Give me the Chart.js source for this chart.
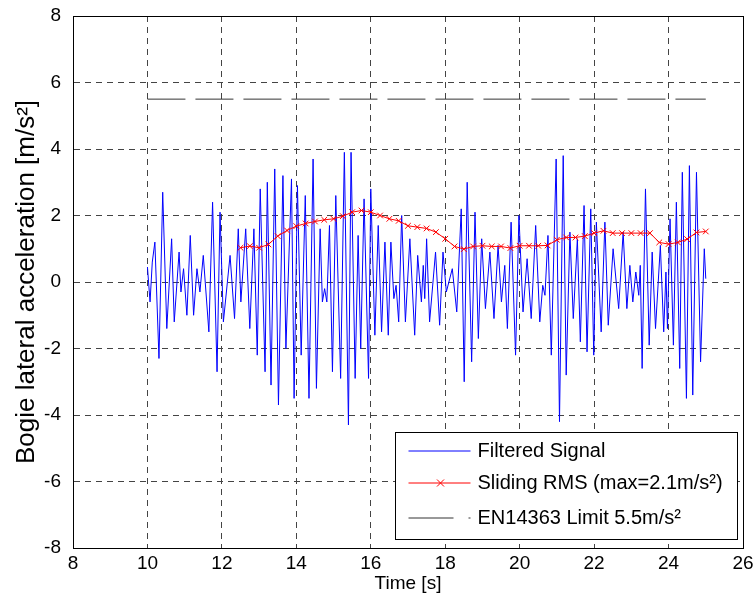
<!DOCTYPE html>
<html>
<head>
<meta charset="utf-8">
<script src="https://cdn.jsdelivr.net/npm/chart.js@4.4.0/dist/chart.umd.min.js"></script>
<style>
  body { margin: 0; background: #fff; }
  canvas { display: block; }
</style>
</head>
<body>
<canvas id="myChart" width="754" height="601"></canvas>
<script>
// filtered signal, read peak by peak off the plot
const sigTime = [
  10.00, 10.07, 10.13, 10.20, 10.31, 10.41, 10.52, 10.65, 10.72, 10.85,
  10.90, 10.97, 11.06, 11.15, 11.24, 11.33, 11.41, 11.50, 11.65, 11.75,
  11.87, 11.95, 12.04, 12.22, 12.34, 12.44, 12.51, 12.64, 12.75, 12.86,
  12.95, 13.03, 13.16, 13.22, 13.32, 13.42, 13.52, 13.64, 13.72, 13.87,
  13.94, 14.03, 14.13, 14.24, 14.34, 14.45, 14.54, 14.64, 14.70, 14.76,
  14.82, 14.89, 14.97, 15.06, 15.19, 15.29, 15.40, 15.47, 15.58, 15.66,
  15.73, 15.82, 15.94, 16.00, 16.11, 16.20, 16.29, 16.38, 16.47, 16.54,
  16.62, 16.68, 16.75, 16.83, 16.93, 17.05, 17.18, 17.26, 17.36, 17.41,
  17.45, 17.50, 17.58, 17.74, 17.85, 17.94, 18.03, 18.19, 18.31, 18.43,
  18.51, 18.59, 18.71, 18.80, 18.89, 18.98, 19.08, 19.20, 19.31, 19.42,
  19.51, 19.60, 19.67, 19.77, 19.89, 19.98, 20.09, 20.20, 20.31, 20.43,
  20.54, 20.62, 20.68, 20.76, 20.85, 20.98, 21.07, 21.17, 21.25, 21.35,
  21.44, 21.55, 21.63, 21.73, 21.81, 21.91, 21.99, 22.06, 22.19, 22.29,
  22.38, 22.51, 22.66, 22.78, 22.88, 22.96, 23.04, 23.12, 23.20, 23.24,
  23.29, 23.38, 23.48, 23.56, 23.65, 23.78, 23.87, 23.93, 23.97, 24.04,
  24.13, 24.21, 24.30, 24.37, 24.48, 24.56, 24.65, 24.75, 24.86, 24.96,
  25.00
];
const sigAccel = [
  0.45, -0.6, 0.6, 1.2, -2.3, 2.7, -1.4, 1.3, -1.2, 0.9,
  -0.3, 0.4, -1.0, 1.4, -1.0, 0.4, -0.3, 0.8, -1.5, 2.4,
  -2.7, 2.1, -1.2, 0.8, -1.1, 1.6, -0.6, 1.6, -1.4, 1.6,
  -2.2, 2.8, -2.7, 3.0, -3.1, 3.4, -3.7, 3.2, -2.0, 3.1,
  -3.5, 2.9, -2.2, 2.6, -3.5, 3.7, -3.2, 1.6, -0.6, -0.2,
  -0.6, 1.7, -2.7, 2.6, -2.9, 3.9, -4.3, 3.9, -2.9, 1.4,
  -2.0, 2.5, -2.9, 2.8, -1.6, 1.7, -1.5, 1.2, -1.6, 1.2,
  -0.5, -0.1, -1.2, 2.0, -1.2, 1.3, -1.6, 0.8, -0.6, 0.5,
  -0.5, 1.3, -1.2, 0.9, -1.3, 0.9, -0.3, 0.4, -0.9, 2.2,
  -3.0, 3.0, -2.4, 2.1, -1.7, 1.3, -0.8, 0.9, -1.1, 1.1,
  -0.6, 0.5, -1.4, 1.8, -2.2, 2.0, -0.9, 0.7, -1.1, 1.7,
  -1.2, -0.1, -0.4, 1.4, -2.2, 3.7, -4.2, 3.8, -2.8, 1.5,
  -1.1, 1.3, -1.8, 2.3, -2.1, 2.2, -2.2, 1.8, -1.5, 1.8,
  -1.3, 1.0, -0.8, 1.5, -0.8, 0.5, -0.6, 0.3, -0.4, 0.5,
  -2.6, 2.8, -1.9, 0.9, -1.4, 1.1, -1.5, 0.3, -1.4, 1.9,
  -1.9, 2.4, -2.6, 3.3, -3.5, 3.5, -3.4, 3.3, -2.4, 1.0,
  0.1
];

// sliding RMS, one marker every 0.25 s
const rmsTime = [
  12.5, 12.75, 13.0, 13.25, 13.5, 13.75, 14.0, 14.25, 14.5, 14.75,
  15.0, 15.25, 15.5, 15.75, 16.0, 16.25, 16.5, 16.75, 17.0, 17.25,
  17.5, 17.75, 18.0, 18.25, 18.5, 18.75, 19.0, 19.25, 19.5, 19.75,
  20.0, 20.25, 20.5, 20.75, 21.0, 21.25, 21.5, 21.75, 22.0, 22.25,
  22.5, 22.75, 23.0, 23.25, 23.5, 23.75, 24.0, 24.25, 24.5, 24.75,
  25.0
];
const rmsValue = [
  1.03, 1.08, 1.03, 1.13, 1.38, 1.55, 1.68, 1.76, 1.82, 1.87,
  1.90, 1.98, 2.10, 2.15, 2.10, 2.00, 1.90, 1.84, 1.69, 1.65,
  1.61, 1.50, 1.30, 1.07, 0.99, 1.07, 1.09, 1.07, 1.07, 1.02,
  1.09, 1.09, 1.09, 1.10, 1.27, 1.34, 1.34, 1.38, 1.47, 1.54,
  1.47, 1.47, 1.47, 1.47, 1.47, 1.19, 1.14, 1.19, 1.29, 1.49,
  1.52
];

// EN14363 limit line
const limitTime = [10, 25];
const limitValue = [5.5, 5.5];

const legendLabels = ['Filtered Signal', 'Sliding RMS (max=2.1m/s\u00B2)', 'EN14363 Limit 5.5m/s\u00B2'];
const legendColors = ['#0000ff', '#ff0000', '#333333'];

const toXY = (xs, ys) => xs.map((x, i) => ({ x: x, y: ys[i] }));

Chart.defaults.font.family = 'Arial, "Liberation Sans", sans-serif';
Chart.defaults.color = '#000';

// black box round the plot area, like matlab "box on"
const boxPlugin = {
  id: 'box',
  afterDatasetsDraw(chart) {
    const { ctx, chartArea: a } = chart;
    ctx.save();
    ctx.strokeStyle = '#000';
    ctx.lineWidth = 1;
    ctx.strokeRect(Math.round(a.left) + 0.5, Math.round(a.top) + 0.5,
      Math.round(a.right - a.left), Math.round(a.bottom - a.top));
    ctx.restore();
  }
};

// legend box in the lower right corner of the axes
const legendPlugin = {
  id: 'matLegend',
  afterDraw(chart) {
    const c = chart.ctx;
    const a = chart.chartArea;
    const w = 342, h = 107;
    const x0 = Math.round(a.right - 6 - w) + 0.5;
    const y0 = Math.round(a.bottom - 9 - h) + 0.5;
    c.save();
    c.fillStyle = '#fff';
    c.fillRect(x0, y0, w, h);
    c.strokeStyle = '#000';
    c.lineWidth = 1;
    c.strokeRect(x0, y0, w, h);

    const rows = [y0 + 18, y0 + 50, y0 + 85];
    const lx1 = x0 + 13, lx2 = x0 + 75;
    for (let i = 0; i < rows.length; i++) {
      const yy = Math.round(rows[i]);
      c.setLineDash(i === 2 ? [45, 15] : []);
      c.lineWidth = 1;
      c.strokeStyle = legendColors[i];
      c.beginPath();
      c.moveTo(lx1, yy);
      c.lineTo(lx2, yy);
      c.stroke();
      c.setLineDash([]);
      if (i === 1) {
        const cx = Math.round((lx1 + lx2) / 2) + 0.5, r = 3.5;
        c.strokeStyle = legendColors[1];
        c.beginPath();
        c.moveTo(cx - r, yy - r); c.lineTo(cx + r, yy + r);
        c.moveTo(cx - r, yy + r); c.lineTo(cx + r, yy - r);
        c.stroke();
      }
      c.font = '20px Arial, "Liberation Sans", sans-serif';
      c.textBaseline = 'middle';
      c.textAlign = 'left';
      c.fillStyle = '#000';
      c.fillText(legendLabels[i], x0 + 82, rows[i] + 1);
    }
    c.restore();
  }
};

const canvas = document.getElementById('myChart');
new Chart(canvas, {
  type: 'line',
  data: {
    datasets: [
      {
        label: legendLabels[1],
        data: toXY(rmsTime, rmsValue),
        borderColor: '#ff0000',
        borderWidth: 1,
        pointStyle: 'crossRot',
        pointRadius: 4,
        pointBorderColor: '#ff0000',
        pointBorderWidth: 1,
        fill: false,
        order: 0,
      },
      {
        label: legendLabels[2],
        data: toXY(limitTime, limitValue),
        borderColor: '#333',
        borderWidth: 1,
        borderDash: [38, 10],
        pointRadius: 0,
        fill: false,
        order: 1,
      },
      {
        label: legendLabels[0],
        data: toXY(sigTime, sigAccel),
        borderColor: '#0000ff',
        borderWidth: 1,
        pointRadius: 0,
        tension: 0,
        fill: false,
        order: 2,
      },
    ],
  },
  options: {
    responsive: false,
    animation: false,
    devicePixelRatio: 1,
    layout: { padding: { top: 16, right: 11, left: 0, bottom: 0 } },
    plugins: {
      legend: { display: false },
      tooltip: { enabled: false },
    },
    scales: {
      x: {
        type: 'linear',
        min: 8,
        max: 26,
        afterFit: (s) => { s.height = 53; s.paddingLeft = 0; s.paddingRight = 0; },
        ticks: { stepSize: 2, padding: 4, font: { size: 19 }, color: '#000', maxRotation: 0 },
        grid: { color: '#444', lineWidth: 1, drawTicks: false },
        border: { display: true, color: '#000', dash: [6, 5] },
        title: { display: true, text: 'Time [s]', font: { size: 19 }, color: '#000', padding: { top: 0, bottom: 6 } },
      },
      y: {
        min: -8,
        max: 8,
        afterFit: (s) => { s.width = 73; s.paddingTop = 0; s.paddingBottom = 0; },
        ticks: { stepSize: 2, padding: 12, font: { size: 19 }, color: '#000' },
        grid: { color: '#444', lineWidth: 1, drawTicks: false },
        border: { display: true, color: '#000', dash: [6, 5] },
        title: { display: true, text: 'Bogie lateral acceleration [m/s\u00B2]', font: { size: 26 }, color: '#000', padding: { top: 11, bottom: 0 } },
      },
    },
  },
  plugins: [boxPlugin, legendPlugin],
});
</script>
</body>
</html>
